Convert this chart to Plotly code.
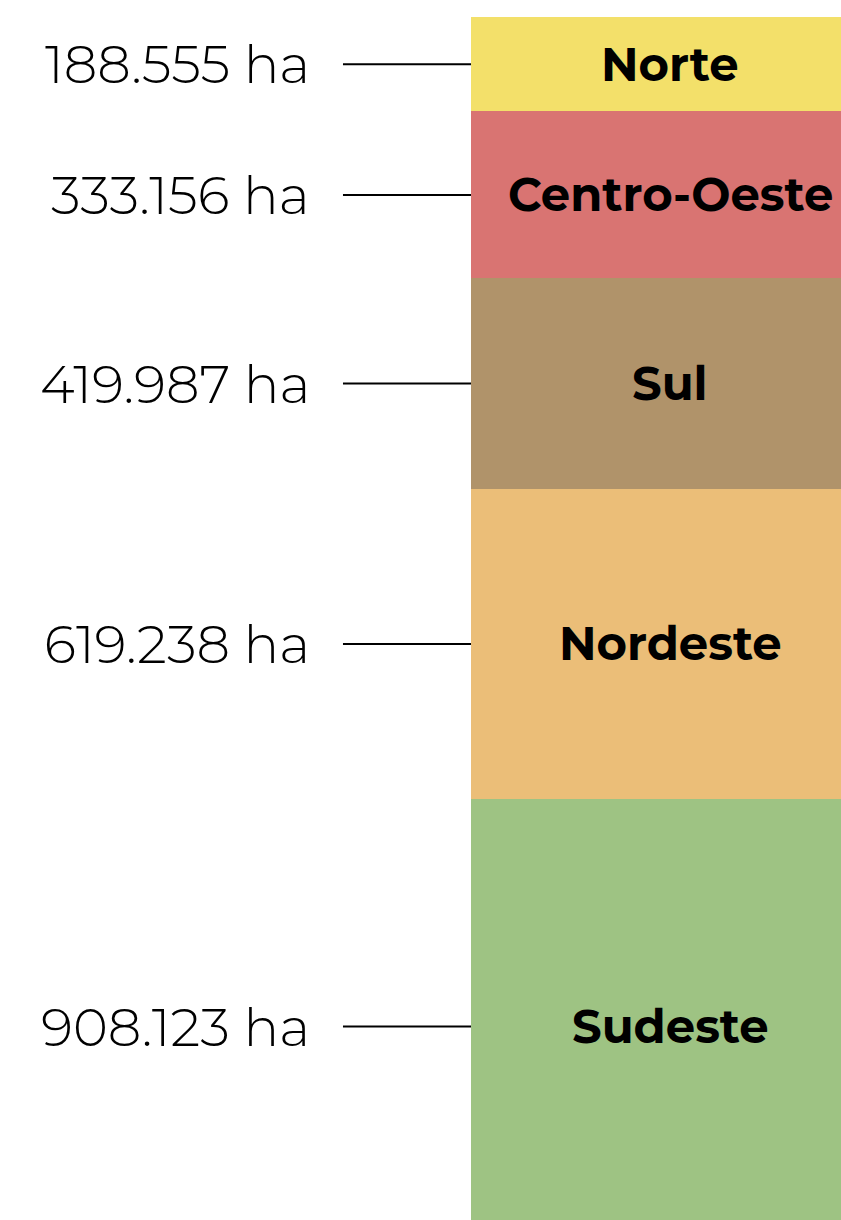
import plotly.graph_objects as go

regions = ["Norte", "Centro-Oeste", "Sul", "Nordeste", "Sudeste"]
areas = [188555, 333156, 419987, 619238, 908123]
area_labels = ["188.555 ha", "333.156 ha", "419.987 ha", "619.238 ha", "908.123 ha"]
colors = ["#F3E06A", "#D97472", "#B0936A", "#EBBE78", "#9EC383"]

total = sum(areas)
# the reference crops the bottom of the bar slightly
y_max = total * 0.9725

fig = go.Figure()
for name, val, col in zip(regions, areas, colors):
    fig.add_trace(go.Bar(x=[0], y=[val], name=name, marker=dict(color=col, line=dict(width=0)),
                         hoverinfo="name+y"))

# midpoints of each stacked segment
mids = []
acc = 0
for v in areas:
    mids.append(acc + v / 2)
    acc += v

for name, lab, m in zip(regions, area_labels, mids):
    fig.add_annotation(x=0, y=m, xref="x", yref="y", text="<b>" + name + "</b>", showarrow=False,
                       xshift=14,
                       font=dict(family="Montserrat, Lato, Roboto", size=46.5, color="black"))
    fig.add_annotation(x=-0.43, y=m, xref="paper", yref="y", text=lab, showarrow=False,
                       xanchor="right", font=dict(family="Montserrat, Roboto", size=53, color="black", weight=300))
    fig.add_shape(type="line", xref="paper", yref="y", x0=-0.346, x1=0, y0=m, y1=m,
                  line=dict(color="black", width=2))

fig.update_layout(
    barmode="stack",
    bargap=0,
    width=841,
    height=1220,
    margin=dict(l=471, r=0, t=17, b=0),
    plot_bgcolor="white",
    paper_bgcolor="white",
    showlegend=False,
    xaxis=dict(visible=False, range=[-0.5, 0.5]),
    yaxis=dict(visible=False, range=[y_max, 0]),
)

fig.write_html("out.html", config={"displayModeBar": False},
               post_script="document.body.style.margin='0';document.body.style.overflow='hidden';")
